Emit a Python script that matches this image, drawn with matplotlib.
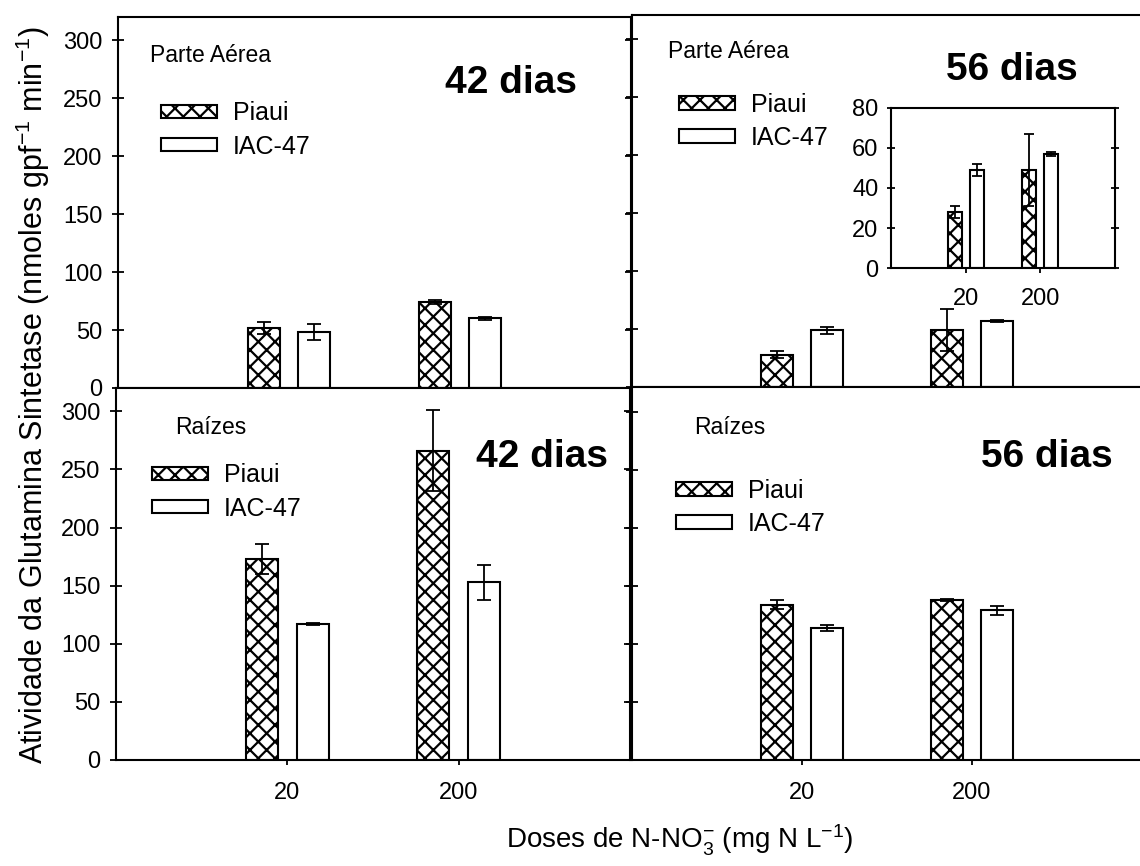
import numpy as np
import matplotlib
matplotlib.use("Agg")
import matplotlib.pyplot as plt

plt.rcParams['font.family'] = ['Liberation Sans', 'DejaVu Sans']
plt.rcParams['mathtext.fontset'] = 'custom'
plt.rcParams['mathtext.rm'] = 'Liberation Sans'
plt.rcParams['mathtext.it'] = 'Liberation Sans:italic'
plt.rcParams['mathtext.bf'] = 'Liberation Sans:bold'
plt.rcParams['hatch.linewidth'] = 1.6

# N-NO3 doses (mg N / L)
doses = ['20', '200']
cultivars = ['Piaui', 'IAC-47']

# Glutamine synthetase activity, shoot (Parte Aérea)
aerea42_piaui = [52, 74]
aerea42_piaui_err = [5, 1.5]
aerea42_iac = [48, 60]
aerea42_iac_err = [7, 1.5]

aerea56_piaui = [28, 49]
aerea56_piaui_err = [3, 18]
aerea56_iac = [49, 57]
aerea56_iac_err = [3, 1]

# Glutamine synthetase activity, roots (Raízes)
raiz42_piaui = [173, 266]
raiz42_piaui_err = [13, 35]
raiz42_iac = [117, 153]
raiz42_iac_err = [1, 15]

raiz56_piaui = [134, 138]
raiz56_piaui_err = [3.5, 1]
raiz56_iac = [113.5, 129]
raiz56_iac_err = [2.5, 4]

main_yticks = [0, 50, 100, 150, 200, 250, 300]
inset_yticks = [0, 20, 40, 60, 80]

W, H = 1140, 866
fig = plt.figure(figsize=(W / 100, H / 100), dpi=100)


def rect(l, t, r, b):
    return [l / W, 1 - b / H, (r - l) / W, (b - t) / H]


def px(x, y):
    return x / W, 1 - y / H


BAR_W = 0.186
OFF = 0.148
TICK_FS = 17


def draw_bars(ax, piaui, piaui_err, iac, iac_err, capsize=4.7):
    x = np.arange(1, len(doses) + 1)
    b1 = ax.bar(x - OFF, piaui, width=BAR_W, facecolor='white',
                edgecolor='black', linewidth=1.5, hatch='xx', zorder=2)
    b2 = ax.bar(x + OFF, iac, width=BAR_W, facecolor='white',
                edgecolor='black', linewidth=1.5, zorder=2)
    ax.errorbar(x - OFF, piaui, yerr=piaui_err, fmt='none', ecolor='black',
                elinewidth=1.3, capsize=capsize, capthick=1.3, zorder=3)
    ax.errorbar(x + OFF, iac, yerr=iac_err, fmt='none', ecolor='black',
                elinewidth=1.3, capsize=capsize, capthick=1.3, zorder=3)
    ax.set_xlim(0, 3)
    ax.set_xticks(x)
    return b1, b2


def style_axes(ax, ymax, yticks, left_labels, right_spine=True):
    ax.set_ylim(0, ymax)
    ax.set_yticks(yticks)
    for s in ax.spines.values():
        s.set_linewidth(1.5)
    if not right_spine:
        ax.spines['right'].set_visible(False)
    ax.tick_params(axis='y', direction='inout', length=8, width=1.3,
                   labelsize=TICK_FS, pad=7, left=True, right=right_spine,
                   labelleft=left_labels)
    ax.tick_params(axis='x', direction='out', length=3.5, width=1.3,
                   labelsize=TICK_FS, pad=12)


def add_legend(ax, handles, x, y):
    ax.legend(handles, cultivars, loc='center left',
              bbox_to_anchor=px(x, y), bbox_transform=fig.transFigure,
              frameon=False, fontsize=18, borderpad=0, borderaxespad=0,
              handlelength=2.25, handleheight=0.45, handletextpad=0.62,
              labelspacing=0.36)


# Shoot, 42 days
ax_tl = fig.add_axes(rect(118, 17, 631, 388))
h = draw_bars(ax_tl, aerea42_piaui, aerea42_piaui_err, aerea42_iac, aerea42_iac_err)
style_axes(ax_tl, 320, main_yticks, True)
ax_tl.set_xticklabels([])
add_legend(ax_tl, h, 161, 130)
fig.text(*px(150, 55), 'Parte Aérea', fontsize=16.5, va='center', ha='left')
fig.text(*px(511, 83), '42 dias', fontsize=28, fontweight='bold',
         va='center', ha='center')

# Shoot, 56 days
ax_tr = fig.add_axes(rect(632, 15, 1142, 387))
h = draw_bars(ax_tr, aerea56_piaui, aerea56_piaui_err, aerea56_iac, aerea56_iac_err)
style_axes(ax_tr, 321, main_yticks, False, right_spine=False)
ax_tr.set_xticklabels([])
add_legend(ax_tr, h, 679, 121.5)
fig.text(*px(668, 52), 'Parte Aérea', fontsize=16.5, va='center', ha='left')
fig.text(*px(1012, 70), '56 dias', fontsize=28, fontweight='bold',
         va='center', ha='center')

# Inset: shoot, 56 days on a finer scale
ax_in = fig.add_axes(rect(891, 108, 1115, 268))
draw_bars(ax_in, aerea56_piaui, aerea56_piaui_err, aerea56_iac, aerea56_iac_err,
          capsize=3.5)
style_axes(ax_in, 80, inset_yticks, True)
ax_in.tick_params(axis='y', length=6, pad=6)
ax_in.tick_params(axis='x', pad=11)
ax_in.set_xticklabels(doses)

# Roots, 42 days
ax_bl = fig.add_axes(rect(116, 388, 630, 760))
h = draw_bars(ax_bl, raiz42_piaui, raiz42_piaui_err, raiz42_iac, raiz42_iac_err)
style_axes(ax_bl, 320, main_yticks, True)
ax_bl.set_xticklabels(doses)
add_legend(ax_bl, h, 152, 492)
fig.text(*px(175, 428), 'Raízes', fontsize=16.5, va='center', ha='left')
fig.text(*px(542, 457), '42 dias', fontsize=28, fontweight='bold',
         va='center', ha='center')

# Roots, 56 days
ax_br = fig.add_axes(rect(632, 387, 1142, 760))
h = draw_bars(ax_br, raiz56_piaui, raiz56_piaui_err, raiz56_iac, raiz56_iac_err)
style_axes(ax_br, 321.5, main_yticks, False, right_spine=False)
ax_br.set_xticklabels(doses)
add_legend(ax_br, h, 676, 507.5)
fig.text(*px(694, 428), 'Raízes', fontsize=16.5, va='center', ha='left')
fig.text(*px(1047, 457), '56 dias', fontsize=28, fontweight='bold',
         va='center', ha='center')

fig.text(*px(33, 395),
         'Atividade da Glutamina Sintetase (nmoles gpf$^{-1}$ min$^{-1}$)',
         fontsize=22, rotation=90, va='center', ha='center')
fig.text(*px(680, 840), 'Doses de N-NO$_3^{-}$ (mg N L$^{-1}$)',
         fontsize=20, va='center', ha='center')

fig.savefig('out.png', dpi=100)
